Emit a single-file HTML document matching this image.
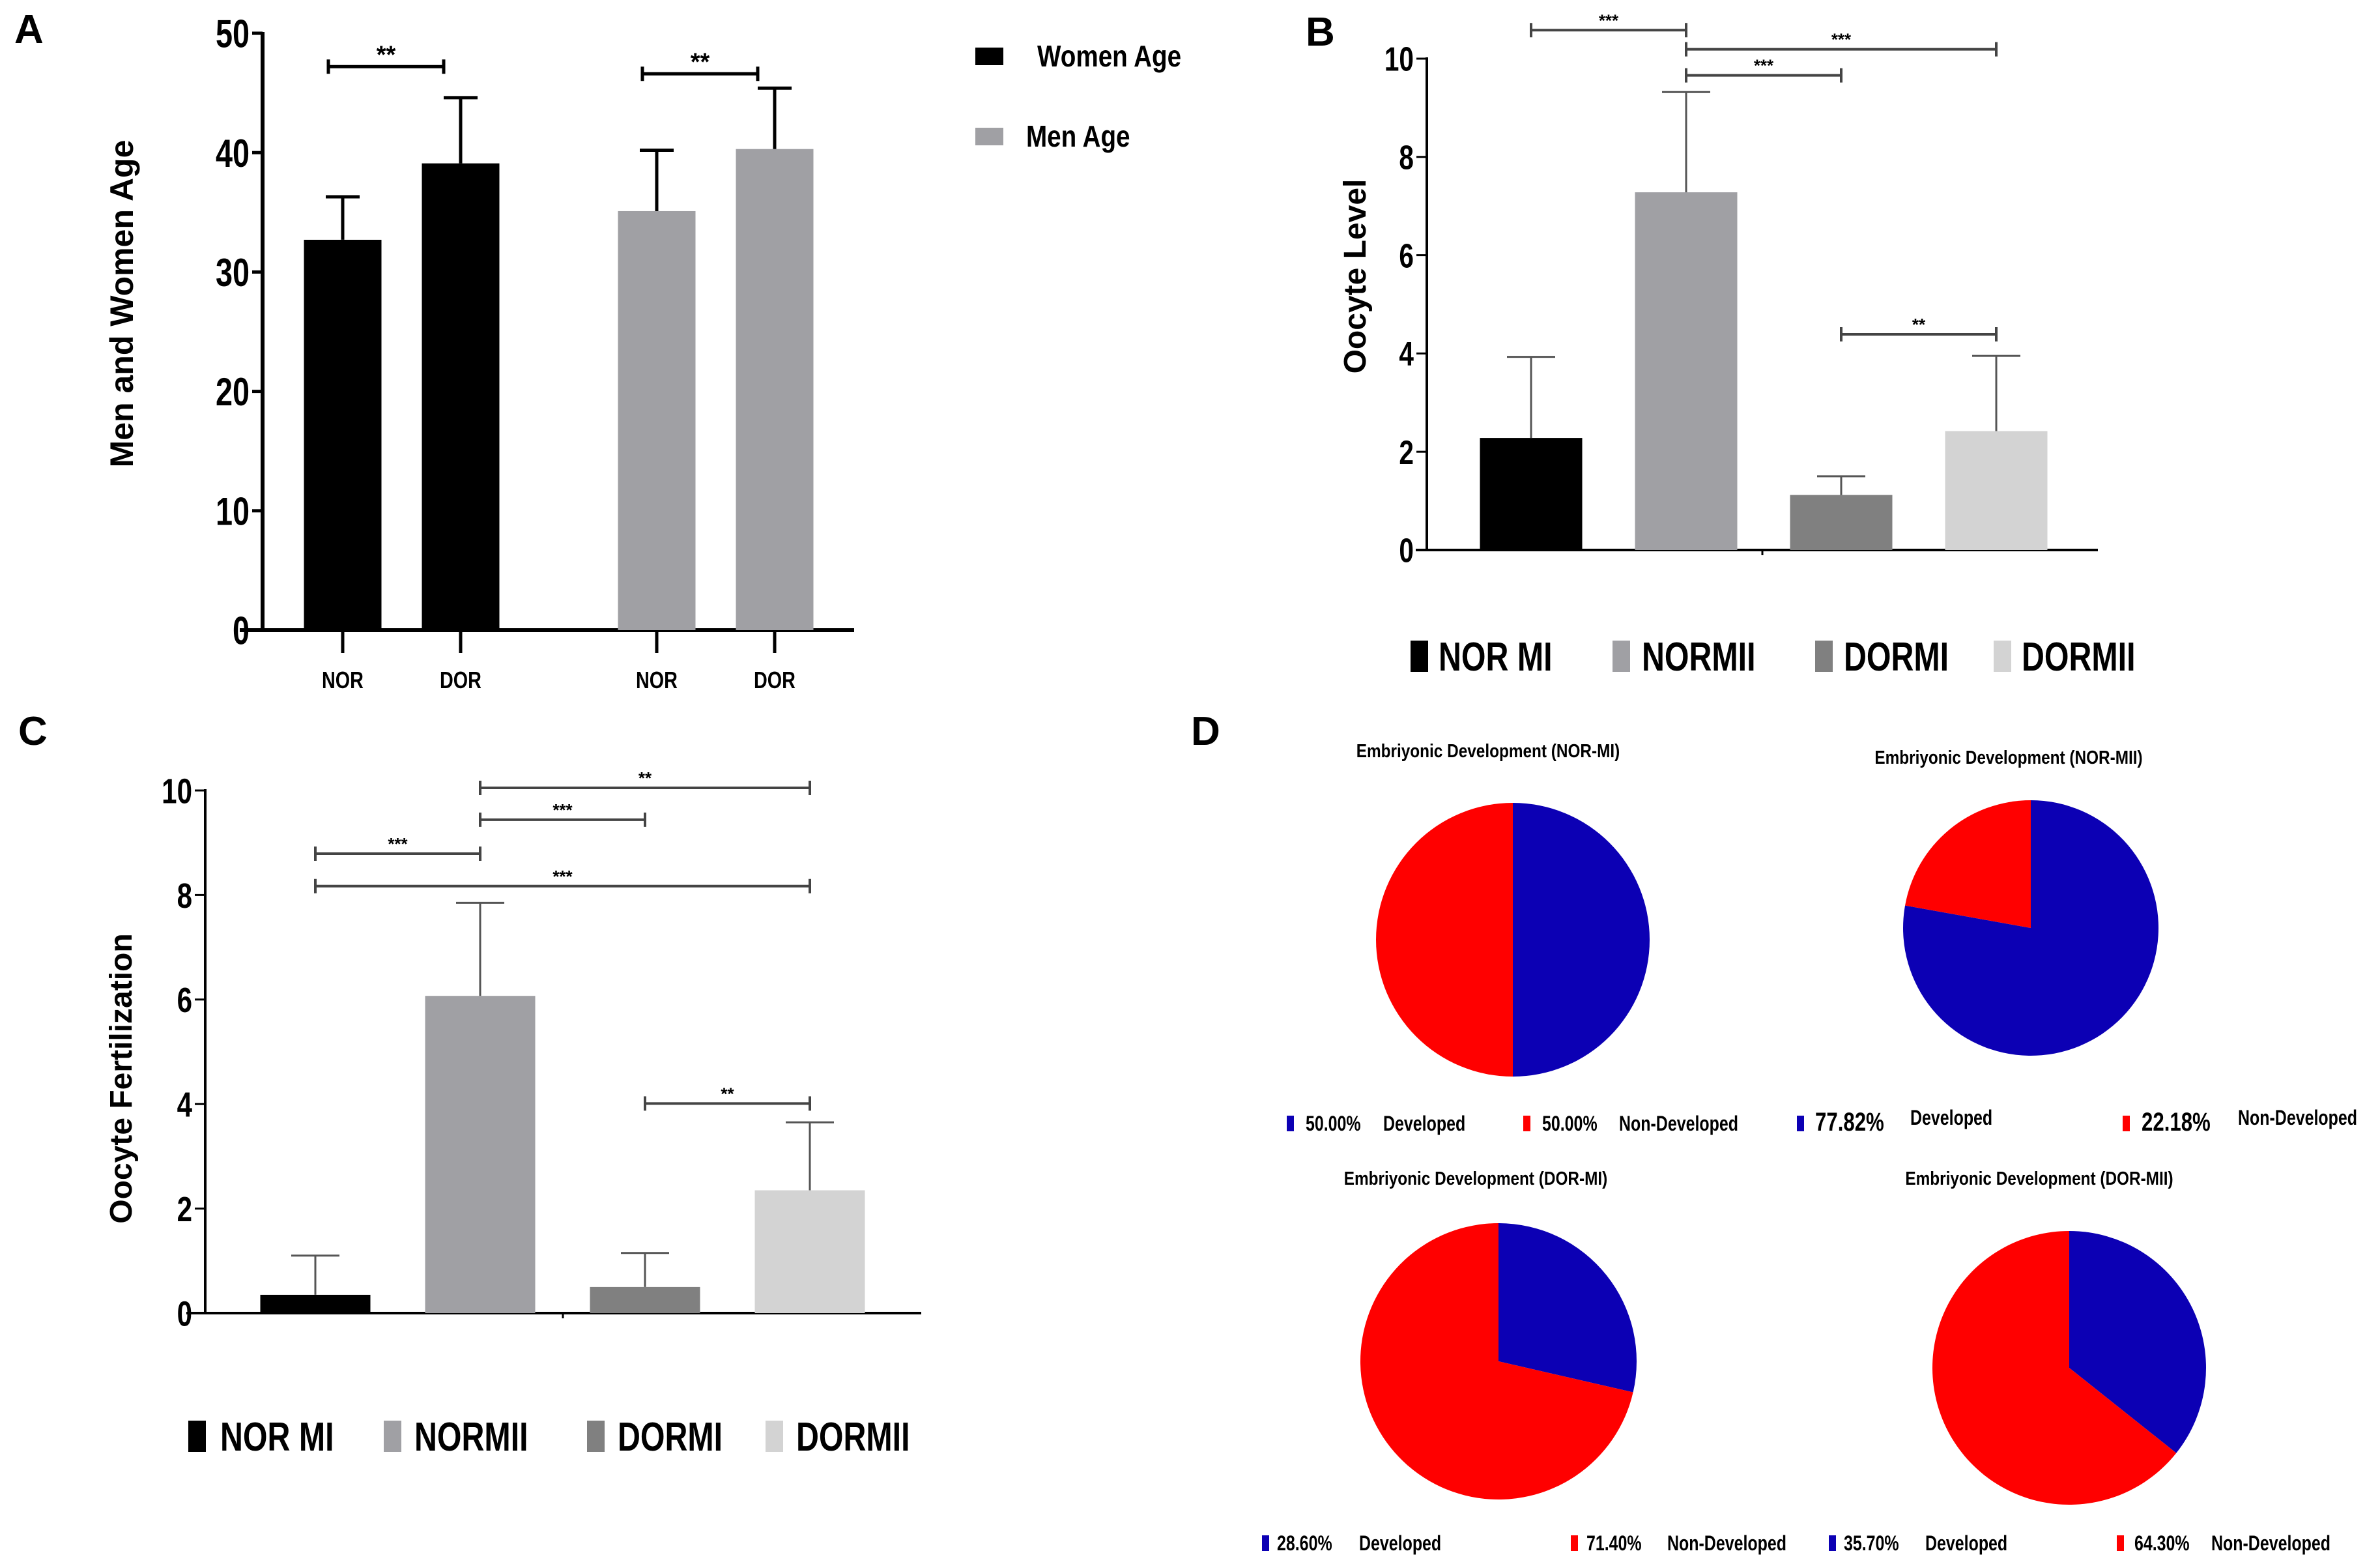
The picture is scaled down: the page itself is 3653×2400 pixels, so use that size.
<!DOCTYPE html>
<html><head><meta charset="utf-8"><style>
html,body{margin:0;padding:0;background:#fff;}
svg{display:block;}
text{font-family:"Liberation Sans Narrow","Liberation Sans",sans-serif;font-weight:bold;fill:#000;}
.sans{font-family:"Liberation Sans",sans-serif;}
</style></head><body>
<svg id="fig" xmlns="http://www.w3.org/2000/svg" width="3653" height="2400" viewBox="0 0 3653 2400">
<rect width="3653" height="2400" fill="#fff"/>
<text x="22" y="66" font-size="62" class="sans">A</text>
<text x="2004" y="70" font-size="62" class="sans">B</text>
<text x="28" y="1143" font-size="62" class="sans">C</text>
<text x="1828" y="1143" font-size="62" class="sans">D</text>
<g id="pA"></g>
<g id="pB"></g>
<g id="pC"></g>
<g id="pD"></g>
</svg>
<script>
// ---- Panel A data ----
const ageCategories = ["NOR", "DOR", "NOR", "DOR"];
const ageGroups = [0, 0, 1, 1];
const ageMeans = [32.7, 39.1, 35.1, 40.3];
const ageErrors = [36.3, 44.6, 40.2, 45.4];
const ageTicks = [0, 10, 20, 30, 40, 50];
const ageSig = [[0, 1, 47.2, "**"], [2, 3, 46.6, "**"]];
const ageLegend = ["Women Age", "Men Age"];
// ---- Panel B data ----
const oocyteCategories = ["NOR MI", "NORMII", "DORMI", "DORMII"];
const oocyteLevel = [2.28, 7.28, 1.12, 2.42];
const oocyteLevelErr = [3.93, 9.32, 1.5, 3.95];
const levelTicks = [0, 2, 4, 6, 8, 10];
const levelSig = [[0, 1, 10.58, "***"], [1, 3, 10.19, "***"], [1, 2, 9.66, "***"], [2, 3, 4.39, "**"]];
// ---- Panel C data ----
const fertValues = [0.35, 6.07, 0.5, 2.35];
const fertErr = [1.1, 7.85, 1.15, 3.65];
const fertTicks = [0, 2, 4, 6, 8, 10];
const fertSig = [[1, 3, 10.05, "**"], [1, 2, 9.44, "***"], [0, 1, 8.79, "***"], [0, 3, 8.17, "***"], [2, 3, 4.01, "**"]];
// ---- Panel D data ----
const pieTitles = ["Embriyonic Development (NOR-MI)", "Embriyonic Development (NOR-MII)", "Embriyonic Development (DOR-MI)", "Embriyonic Development (DOR-MII)"];
const pieDeveloped = [50.00, 77.82, 28.60, 35.70];
const pieNonDeveloped = [50.00, 22.18, 71.40, 64.30];

const NS = "http://www.w3.org/2000/svg";
function mk(parent, tag, attrs, txt) {
  const e = document.createElementNS(NS, tag);
  for (const k in attrs) e.setAttribute(k, attrs[k]);
  if (txt !== undefined) e.textContent = txt;
  parent.appendChild(e);
  return e;
}
// condensed text: horizontal squeeze around its anchor x
function narrow(e, f) {
  const x = parseFloat(e.getAttribute("x"));
  e.setAttribute("transform", `translate(${x},0) scale(${f},1) translate(${-x},0)`);
  return e;
}
const barColors = ["#000000", "#a0a0a4", "#808080", "#d3d3d3"];

function barPanel(g, cfg) {
  const y = v => cfg.y0 - (v - 0) * (cfg.y0 - cfg.yTop) / cfg.max;
  const x = i => cfg.xc(i);
  let ax = mk(g, "line", {x1: cfg.axX, y1: y(cfg.max) - 2, x2: cfg.axX, y2: cfg.y0, stroke: "#000", "stroke-width": cfg.axW});
  
  
  let xa = mk(g, "line", {x1: cfg.xAxisFrom, y1: cfg.y0, x2: cfg.xAxisTo, y2: cfg.y0, stroke: "#000", "stroke-width": cfg.axW});
  
  
  cfg.ticks.forEach(t => {
    const tl = mk(g, "line", {x1: cfg.axX - 16, y1: y(t), x2: cfg.axX, y2: y(t), stroke: "#000", "stroke-width": cfg.axW - 1});
    
    
    const tt = mk(g, "text", {x: cfg.axX - 20, y: y(t) + cfg.tickFs * 0.36, "font-size": cfg.tickFs, "text-anchor": "end"}, String(t));
    narrow(tt, 0.78);
    
    
  });
  cfg.values.forEach((v, i) => {
    const b = mk(g, "rect", {x: x(i) - cfg.bw / 2, y: y(v), width: cfg.bw, height: cfg.y0 - y(v), fill: cfg.colors[i]});
    
    
    const e = mk(g, "path", {d: `M${x(i)},${y(v)}V${y(cfg.errs[i])}M${x(i) - cfg.cap / 2},${y(cfg.errs[i])}H${x(i) + cfg.cap / 2}`, stroke: cfg.errColor, "stroke-width": cfg.errW, fill: "none"});
    
    
  });
  cfg.sig.forEach(s => {
    const xa1 = x(s[0]) + cfg.sigL, xa2 = x(s[1]) + cfg.sigR, yy = y(s[2]);
    const p = mk(g, "path", {d: `M${xa1},${yy - 11}V${yy + 11}M${xa1},${yy}H${xa2}M${xa2},${yy - 11}V${yy + 11}`, stroke: cfg.sigColor, "stroke-width": cfg.sigW, fill: "none"});
    
    
    const st = mk(g, "text", {x: (xa1 + xa2) / 2, y: yy - 6, "font-size": cfg.starFs, "text-anchor": "middle", class: "sans"}, s[3]);
    
    
  });
  const tt = mk(g, "text", {x: cfg.titleX, y: cfg.titleY, "font-size": cfg.titleFs, "text-anchor": "middle", class: "sans", transform: `rotate(-90 ${cfg.titleX} ${cfg.titleY})`}, cfg.title);
  
  
  return {x, y};
}

// Panel A
(function () {
  const g = document.getElementById("pA");
  const r = barPanel(g, {
    y0: 967, yTop: 51, max: 50, axX: 403, axW: 6, xAxisFrom: 368, xAxisTo: 1311,
    xc: i => 526 + i * 181 + ageGroups[i] * 120, bw: 119, values: ageMeans, errs: ageErrors,
    colors: ageGroups.map(gr => gr === 0 ? "#000000" : "#a0a0a4"), names: ageCategories,
    ticks: ageTicks, tickFs: 60, cap: 52, errW: 5, errColor: "#000", sig: ageSig, sigL: -22, sigR: -26, sigColor: "#000", sigW: 5, starFs: 38,
    title: "Men and Women Age", titleX: 204, titleY: 466, titleFs: 50
  });
  ageCategories.forEach((c, i) => {
    const t = mk(g, "line", {x1: r.x(i), y1: 967, x2: r.x(i), y2: 1002, stroke: "#000", "stroke-width": 5});
    
    
    const l = mk(g, "text", {x: r.x(i), y: 1056, "font-size": 36, "text-anchor": "middle"}, c);
    narrow(l, 0.8);
    
    
  });
  const ly = [86, 209], lc = ["#000000", "#a0a0a4"], lx = [1592, 1575];
  ageLegend.forEach((n, i) => {
    const s = mk(g, "rect", {x: 1497, y: ly[i] - 13, width: 43, height: 27, fill: lc[i]});
    
    
    const t = mk(g, "text", {x: lx[i], y: ly[i] + 16, "font-size": 46}, n);
    narrow(t, 0.84);
    
    
  });
})();

function bottomLegend(g, sqX, txtX, cy) {
  oocyteCategories.forEach((n, i) => {
    const s = mk(g, "rect", {x: sqX[i], y: cy - 24, width: 27, height: 48, fill: barColors[i]});
    
    
    const t = mk(g, "text", {x: txtX[i], y: cy + 22, "font-size": 62}, n);
    narrow(t, 0.78);
    
    
  });
}

// Panel B
(function () {
  const g = document.getElementById("pB");
  barPanel(g, {
    y0: 844, yTop: 90, max: 10, axX: 2190, axW: 4, xAxisFrom: 2173, xAxisTo: 3220,
    xc: i => 2350 + i * 238, bw: 157, values: oocyteLevel, errs: oocyteLevelErr, colors: barColors, names: oocyteCategories,
    ticks: levelTicks, tickFs: 52, cap: 74, errW: 3, errColor: "#555", sig: levelSig, sigL: 0, sigR: 0, sigColor: "#444", sigW: 4, starFs: 26,
    title: "Oocyte Level", titleX: 2096, titleY: 424, titleFs: 48
  });
  const sm = mk(g, "line", {x1: 2705, y1: 844, x2: 2705, y2: 852, stroke: "#000", "stroke-width": 3});
  
  
  bottomLegend(g, [2165, 2475, 2786, 3060], [2208, 2520, 2830, 3103], 1007);
})();

// Panel C
(function () {
  const g = document.getElementById("pC");
  barPanel(g, {
    y0: 2015, yTop: 1213, max: 10, axX: 315, axW: 4, xAxisFrom: 286, xAxisTo: 1414,
    xc: i => 484 + i * 253, bw: 169, values: fertValues, errs: fertErr, colors: barColors, names: oocyteCategories,
    ticks: fertTicks, tickFs: 54, cap: 74, errW: 3, errColor: "#555", sig: fertSig, sigL: 0, sigR: 0, sigColor: "#444", sigW: 4, starFs: 26,
    title: "Oocyte Fertilization", titleX: 202, titleY: 1655, titleFs: 48
  });
  const sm = mk(g, "line", {x1: 864, y1: 2015, x2: 864, y2: 2023, stroke: "#000", "stroke-width": 3});
  
  
  bottomLegend(g, [289, 589, 901, 1175], [338, 636, 948, 1222], 2204);
})();

// Panel D
(function () {
  const g = document.getElementById("pD");
  const pies = [
    {cx: 2322, cy: 1442, r: 210, tx: 2284, ty: 1162},
    {cx: 3117, cy: 1424, r: 196, tx: 3083, ty: 1172},
    {cx: 2300, cy: 2089, r: 212, tx: 2265, ty: 1818},
    {cx: 3176, cy: 2099, r: 210, tx: 3130, ty: 1818}
  ];
  const legs = [
    {y: 1724, items: [[1975, 2004, 2123], [2338, 2367, 2485]], big: false},
    {y: 1724, items: [[2758, 2786, 2932], [3258, 3287, 3435]], big: true},
    {y: 2368, items: [[1937, 1960, 2086], [2411, 2435, 2559]], big: false},
    {y: 2368, items: [[2807, 2830, 2955], [3249, 3276, 3394]], big: false}
  ];
  const cols = ["#0c00b4", "#ff0000"];
  const names = ["Developed", "Non-Developed"];
  function pt(p, frac) { const a = frac * 2 * Math.PI; return [p.cx + p.r * Math.sin(a), p.cy - p.r * Math.cos(a)]; }
  pies.forEach((p, i) => {
    const vals = [pieDeveloped[i], pieNonDeveloped[i]];
    const total = vals[0] + vals[1];
    let acc = 0;
    vals.forEach((v, k) => {
      const f0 = acc / total, f1 = (acc + v) / total;
      acc += v;
      const a = pt(p, f0), b = pt(p, f1);
      const large = (f1 - f0) > 0.5 ? 1 : 0;
      const s = mk(g, "path", {d: `M${p.cx},${p.cy}L${a[0]},${a[1]}A${p.r},${p.r} 0 ${large} 1 ${b[0]},${b[1]}Z`, fill: cols[k]});
      
      
    });
    const t = mk(g, "text", {x: p.tx, y: p.ty, "font-size": 29, "text-anchor": "middle"}, pieTitles[i]);
    narrow(t, 0.84);
    
    
    const L = legs[i];
    L.items.forEach((it, k) => {
      const sq = mk(g, "rect", {x: it[0], y: L.y - 12, width: 11, height: 24, fill: cols[k]});
      
      
      const pc = mk(g, "text", {x: it[1], y: L.y + 11, "font-size": L.big ? 40 : 32}, vals[k].toFixed(2) + "%");
      narrow(pc, 0.78);
      
      
      const nm = mk(g, "text", {x: it[2], y: L.y + (L.big ? 2 : 11), "font-size": 32}, names[k]);
      narrow(nm, 0.78);
      
      
    });
  });
})();
</script>
</body></html>
